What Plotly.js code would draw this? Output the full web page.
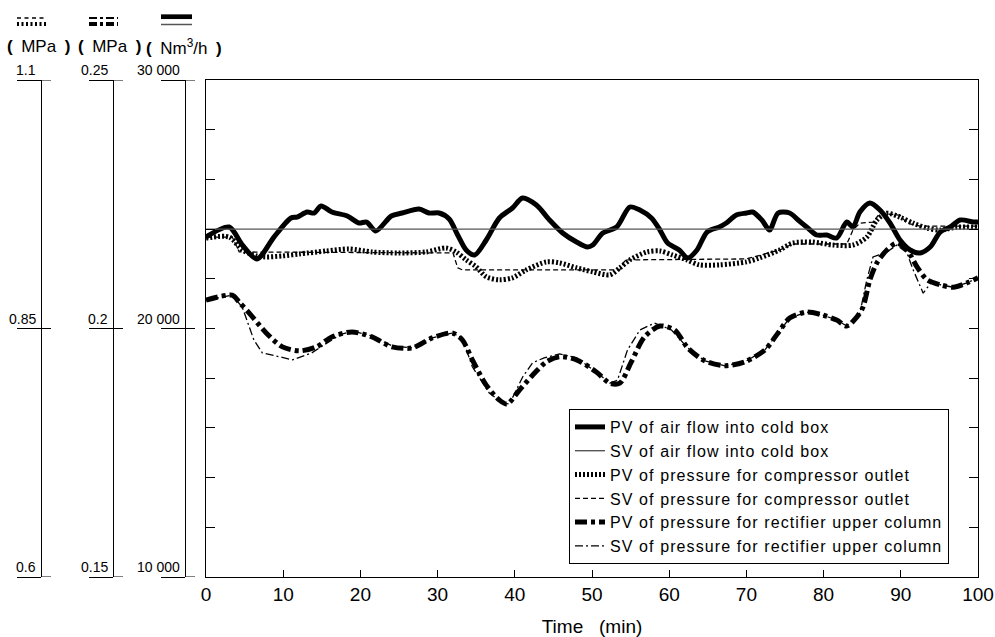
<!DOCTYPE html>
<html>
<head>
<meta charset="utf-8">
<script src="https://cdn.plot.ly/plotly-3.0.1.min.js"></script>
<style>
  html, body { margin: 0; padding: 0; background: #fff; }
  #chart { width: 995px; height: 637px; }
  .legendtext { letter-spacing: 1.1px; }
</style>
</head>
<body>
<div id="chart"></div>
<script>
// ---------------- data ----------------
// time axis (min)
const xTicks = [0, 10, 20, 30, 40, 50, 60, 70, 80, 90, 100];

// PV of air flow into cold box (Nm3/h)
const flowPV_t = [0, 3.0, 4.7, 6.6, 8.8, 11.0, 11.8, 13.1, 14.0, 14.9, 16.3, 18.3, 19.8, 20.8, 22.0, 24.0, 25.4, 27.6, 28.9, 30.2, 31.5, 32.6, 33.7, 34.8, 36.3, 38.0, 39.7, 41.0, 42.8, 44.5, 46.2, 48.0, 49.4, 50.1, 51.4, 53.2, 54.9, 56.2, 57.7, 58.8, 59.8, 61.3, 62.4, 63.6, 64.9, 66.5, 67.4, 68.7, 70.0, 70.8, 72.0, 73.0, 74.1, 75.6, 76.7, 77.8, 79.1, 80.4, 81.7, 83.0, 83.8, 84.7, 86.0, 87.3, 88.6, 89.9, 91.2, 92.5, 93.8, 95.1, 96.4, 97.7, 99.4, 100];
const flowPV = [23680, 24085, 23360, 22797, 23680, 24446, 24486, 24688, 24647, 24929, 24688, 24527, 24245, 24285, 23923, 24527, 24647, 24808, 24647, 24647, 24406, 23762, 23159, 22957, 23560, 24446, 24849, 25251, 24969, 24366, 23843, 23480, 23279, 23360, 23843, 24085, 24889, 24768, 24446, 23963, 23440, 23159, 22837, 23159, 23883, 24085, 24245, 24567, 24647, 24688, 24366, 23963, 24647, 24647, 24366, 24085, 23762, 23762, 23641, 24285, 24085, 24688, 25050, 24768, 24245, 23560, 23159, 23038, 23279, 23883, 24085, 24366, 24285, 24285];

// SV of air flow into cold box (Nm3/h)
const flowSV_t = [0, 100];
const flowSV = [24000, 24000];

// PV of pressure for compressor outlet (MPa)
const compPV_t = [0, 3.0, 4.7, 6.6, 7.8, 9.9, 12.1, 15.6, 18.5, 21.5, 25.0, 28.5, 31.1, 32.4, 33.7, 35.0, 36.3, 38.0, 39.7, 41.5, 44.1, 45.8, 48.0, 50.1, 52.3, 53.6, 54.9, 57.1, 58.8, 60.4, 62.3, 63.9, 66.5, 70.0, 71.7, 74.3, 76.0, 78.6, 81.2, 83.8, 85.6, 86.9, 88.2, 89.9, 91.6, 93.4, 95.1, 97.3, 100];
const compPV = [0.941, 0.942, 0.929, 0.923, 0.922, 0.923, 0.925, 0.928, 0.930, 0.927, 0.926, 0.927, 0.931, 0.927, 0.919, 0.912, 0.902, 0.899, 0.901, 0.909, 0.917, 0.916, 0.911, 0.907, 0.904, 0.911, 0.919, 0.927, 0.928, 0.924, 0.919, 0.914, 0.914, 0.917, 0.921, 0.929, 0.936, 0.937, 0.934, 0.934, 0.942, 0.959, 0.966, 0.962, 0.956, 0.951, 0.949, 0.952, 0.952];

// SV of pressure for compressor outlet (MPa)
const compSV_t = [0, 3.4, 4.3, 32.0, 32.6, 33.2, 53.6, 54.3, 70.0, 74.3, 76.0, 83.0, 83.8, 84.7, 86.4, 87.3, 89.9, 90.8, 92.5, 100];
const compSV = [0.942, 0.942, 0.927, 0.926, 0.911, 0.909, 0.909, 0.919, 0.920, 0.929, 0.935, 0.935, 0.949, 0.956, 0.957, 0.966, 0.964, 0.956, 0.953, 0.953];

// PV of pressure for rectifier upper column (MPa)
const rectPV_t = [0, 3.4, 4.3, 5.6, 7.8, 9.9, 12.1, 14.3, 16.3, 18.9, 21.5, 24.1, 26.7, 29.3, 31.9, 33.2, 34.5, 36.3, 38.0, 39.0, 40.6, 42.3, 44.1, 45.8, 48.0, 50.6, 52.3, 53.6, 55.1, 56.8, 58.8, 60.7, 62.4, 64.6, 67.2, 69.8, 72.4, 74.1, 75.6, 77.8, 79.9, 81.7, 83.0, 84.3, 85.1, 86.0, 86.9, 88.2, 89.5, 90.8, 92.1, 93.4, 95.1, 96.8, 98.6, 100];
const rectPV = [0.2057, 0.2067, 0.2053, 0.2031, 0.1991, 0.1963, 0.1955, 0.1963, 0.1983, 0.1993, 0.1983, 0.1963, 0.1961, 0.1981, 0.1991, 0.1977, 0.1937, 0.1886, 0.1856, 0.1848, 0.1876, 0.1906, 0.1933, 0.1943, 0.1937, 0.1912, 0.1890, 0.1890, 0.1933, 0.1983, 0.2005, 0.1997, 0.1961, 0.1935, 0.1925, 0.1933, 0.1957, 0.1991, 0.2021, 0.2033, 0.2027, 0.2017, 0.2005, 0.2023, 0.2043, 0.2098, 0.2132, 0.2158, 0.2172, 0.2158, 0.2124, 0.2098, 0.2088, 0.2083, 0.2092, 0.2102];

// SV of pressure for rectifier upper column (MPa)
const rectSV_t = [0, 3.4, 4.7, 6.2, 7.3, 9.5, 11.2, 13.7, 15.3, 17.3, 18.9, 21.5, 24.1, 26.7, 29.3, 31.9, 33.2, 34.5, 36.7, 38.4, 39.3, 41.0, 42.3, 43.8, 45.8, 48.0, 50.6, 52.3, 53.3, 54.6, 56.2, 58.1, 60.3, 62.4, 64.6, 67.2, 69.8, 72.4, 74.1, 75.6, 77.8, 79.9, 81.7, 83.0, 84.7, 85.6, 86.4, 88.2, 89.5, 90.8, 91.6, 92.5, 92.9, 94.0, 95.1, 96.8, 98.6, 100];
const rectSV = [0.2057, 0.2067, 0.2043, 0.1977, 0.1951, 0.1943, 0.1937, 0.1951, 0.1967, 0.1987, 0.1995, 0.1985, 0.1965, 0.1961, 0.1981, 0.1991, 0.1981, 0.1923, 0.1870, 0.1850, 0.1848, 0.1902, 0.1931, 0.1941, 0.1949, 0.1941, 0.1912, 0.1890, 0.1896, 0.1957, 0.1997, 0.2011, 0.1997, 0.1961, 0.1935, 0.1925, 0.1933, 0.1957, 0.1991, 0.2021, 0.2033, 0.2027, 0.2017, 0.2005, 0.2031, 0.2098, 0.2144, 0.2154, 0.2168, 0.2152, 0.2118, 0.2083, 0.2071, 0.2094, 0.2088, 0.2083, 0.2092, 0.2102];

// scale axes at the left
const compTicks = [0.6, 0.85, 1.1];
const compLabels = ['0.6', '0.85', '1.1'];
const rectTicks = [0.15, 0.2, 0.25];
const rectLabels = ['0.15', '0.2', '0.25'];
const flowTicks = [10000, 20000, 30000];
const flowLabels = ['10 000', '20 000', '30 000'];
const unitLabels = ['MPa', 'MPa', 'Nm<sup>3</sup>/h'];

const legendNames = [
  'PV of air flow into cold box',
  'SV of air flow into cold box',
  'PV of pressure for compressor outlet',
  'SV of pressure for compressor outlet',
  'PV of pressure for rectifier upper column',
  'SV of pressure for rectifier upper column'
];

// ---------------- layout geometry ----------------
const FONT = 'Liberation Sans, Arial, Helvetica, sans-serif';
const W = 995, H = 637;
const M = {l: 0, r: 17, t: 80, b: 60};
const PW = W - M.l - M.r;           // plot-area width in px
const PH = H - M.t - M.b;           // plot-area height in px
const px = v => v / PW;             // pixel -> paper x
const py = v => (H - M.b - v) / PH; // pixel -> paper y
const POS = [px(41), px(113), px(185)];
const STUB = px(10);

const traces = [
  {name: legendNames[0], x: flowPV_t, y: flowPV, yaxis: 'y', mode: 'lines',
   line: {color: '#000', width: 5, shape: 'spline', smoothing: 0.8}},
  {name: legendNames[1], x: flowSV_t, y: flowSV, yaxis: 'y4', mode: 'lines',
   line: {color: '#555', width: 1.4}},
  {name: legendNames[2], x: compPV_t, y: compPV, yaxis: 'y2', mode: 'lines',
   line: {color: '#000', width: 5, dash: '2px,2px', shape: 'spline', smoothing: 0.8}},
  {name: legendNames[3], x: compSV_t, y: compSV, yaxis: 'y2', mode: 'lines',
   line: {color: '#000', width: 1.3, dash: '5px,3px'}},
  {name: legendNames[4], x: rectPV_t, y: rectPV, yaxis: 'y3', mode: 'lines',
   line: {color: '#000', width: 5, dash: '12px,4px,4px,4px', shape: 'spline', smoothing: 0.8}},
  {name: legendNames[5], x: rectSV_t, y: rectSV, yaxis: 'y3', mode: 'lines',
   line: {color: '#000', width: 1.3, dash: '8px,3px,2px,3px'}}
];
traces.forEach(t => { t.hoverinfo = 'skip'; });

function scaleAxis(pos, range, ticks) {
  return {
    overlaying: 'y', anchor: 'free', position: pos, side: 'left',
    range: range, tickvals: ticks, ticks: 'outside', ticklen: 24,
    tickcolor: '#000', tickwidth: 1, showticklabels: false,
    showline: true, linecolor: '#000', linewidth: 1,
    showgrid: false, zeroline: false, automargin: false, fixedrange: true
  };
}

const annotations = [];
const shapes = [];
[[POS[0], 'y2', compTicks, compLabels],
 [POS[1], 'y3', rectTicks, rectLabels],
 [POS[2], 'y4', flowTicks, flowLabels]].forEach(([pos, yref, ticks, labels]) => {
  ticks.forEach((v, i) => {
    annotations.push({
      text: labels[i], xref: 'paper', x: pos, xanchor: 'right', xshift: -3,
      yref: yref, y: v, yanchor: 'bottom', yshift: 0, showarrow: false,
      font: {size: 14}
    });
    shapes.push({type: 'line', xref: 'paper', x0: pos, x1: pos + STUB,
      yref: yref, y0: v, y1: v, line: {color: '#000', width: 1}});
  });
});

// unit labels above the scale axes (wide brackets)
const OPEN = '<b>(</b>\u2002';
const CLOSE = '\u2002<b>)</b>';
[px(38.5), px(109.5), px(184)].forEach((x, i) => {
  annotations.push({text: OPEN + unitLabels[i] + CLOSE,
    xref: 'paper', yref: 'paper', x: x, y: py(47),
    xanchor: 'center', yanchor: 'middle', showarrow: false,
    font: {size: 17, family: FONT}});
});

// line-style keys above the units
const key = (x0, x1, y, w, dash, color) => ({type: 'line', xref: 'paper', yref: 'paper',
  x0: px(x0), x1: px(x1), y0: py(y), y1: py(y), line: {color: color || '#000', width: w, dash: dash || 'solid'}});
shapes.push(key(17, 46, 18, 1.5, '4px,3.5px'));
shapes.push(key(17, 46, 24, 4, '2px,2.5px'));
shapes.push(key(89, 118, 18, 2, '8px,3px,3px,3px'));
shapes.push(key(89, 118, 24, 4, '8px,3px,3px,3px'));
shapes.push(key(161, 192, 16.7, 4.7));
shapes.push(key(161, 192, 24.5, 1.5, 'solid', '#555'));

const layout = {
  width: W, height: H,
  margin: {l: M.l, r: M.r, t: M.t, b: M.b, pad: 0},
  paper_bgcolor: '#fff', plot_bgcolor: '#fff',
  font: {family: FONT, size: 14, color: '#000'},
  showlegend: true,
  legend: {
    x: px(569), y: py(409), xanchor: 'left', yanchor: 'top',
    bgcolor: '#fff', bordercolor: '#000', borderwidth: 1,
    font: {size: 16, family: FONT, color: '#000'},
    tracegroupgap: 0
  },
  xaxis: {
    domain: [px(206), 1], range: [0, 100],
    tickvals: xTicks, ticktext: xTicks.map(String),
    ticks: 'inside', ticklen: 7, tickcolor: '#000', tickwidth: 1,
    showline: true, linecolor: '#000', linewidth: 1, mirror: true,
    showgrid: false, zeroline: false, automargin: false,
    tickfont: {size: 19}, ticklabelstandoff: 0,
    title: {text: 'Time\u00a0\u00a0\u00a0(min)', font: {size: 19}, standoff: 19}
  },
  yaxis: {
    range: [10000, 30000], tick0: 10000, dtick: 2000,
    ticks: 'inside', ticklen: 9, tickcolor: '#000', tickwidth: 1,
    showline: true, linecolor: '#000', linewidth: 1, mirror: 'ticks',
    showticklabels: false, showgrid: false, zeroline: false, automargin: false
  },
  yaxis2: scaleAxis(POS[0], [0.6, 1.1], compTicks),
  yaxis3: scaleAxis(POS[1], [0.15, 0.25], rectTicks),
  yaxis4: scaleAxis(POS[2], [10000, 30000], flowTicks),
  annotations: annotations,
  shapes: shapes
};

Plotly.newPlot('chart', traces, layout, {staticPlot: true, displayModeBar: false});
</script>
</body>
</html>
